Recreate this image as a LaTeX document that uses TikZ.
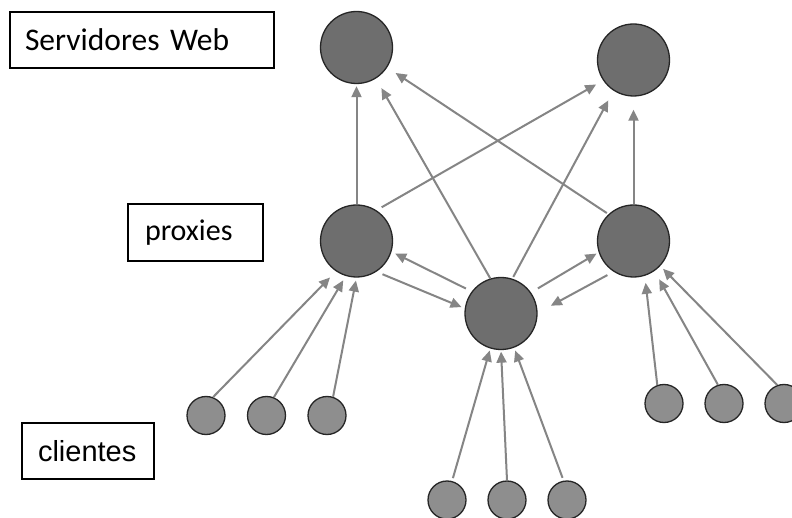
\documentclass[tikz,border=0pt]{standalone}
\usepackage{fontspec}
\setmainfont{Carlito}
\newfontfamily\arialf{Liberation Sans}
\usetikzlibrary{arrows.meta}
\definecolor{bigfill}{HTML}{6E6E6E}
\definecolor{smallfill}{HTML}{8E8E8E}
\definecolor{arrgray}{HTML}{858585}
\tikzset{
  bignode/.style={circle, draw=black!85, line width=1.3pt, fill=bigfill, minimum size=72pt, inner sep=0pt},
  smallnode/.style={circle, draw=black!85, line width=1.3pt, fill=smallfill, minimum size=38pt, inner sep=0pt},
  arr/.style={draw=arrgray, line width=2pt, -{Triangle[length=11pt,width=10pt]}, arrgray},
  labelbox/.style={draw=black, line width=1.4pt, fill=white, minimum height=56pt, align=left, inner ysep=0pt}
}
\begin{document}
\begin{tikzpicture}[x=1pt,y=-1pt]
\useasboundingbox[fill=white] (0,0) rectangle (792,518);
% servers
\node[bignode] (S1) at (356.5,47.5) {};
\node[bignode] (S2) at (633.5,60) {};
% proxies
\node[bignode] (P1) at (356.5,241) {};
\node[bignode] (P2) at (633.5,241) {};
\node[bignode] (C) at (501,313.5) {};
% clients
\node[smallnode] (L1) at (206,415.5) {};
\node[smallnode] (L2) at (266.5,415.5) {};
\node[smallnode] (L3) at (327,415.5) {};
\node[smallnode] (M1) at (447,500) {};
\node[smallnode] (M2) at (507,500) {};
\node[smallnode] (M3) at (567,500) {};
\node[smallnode] (R1) at (664,403.5) {};
\node[smallnode] (R2) at (724,403.5) {};
\node[smallnode] (R3) at (784,403.5) {};
% labels
\node[labelbox, inner xsep=15pt, text width=234pt, font=\fontsize{31.5}{31.5}\selectfont] (lS) at (142,40) {Servidores Web};
\node[labelbox, inner xsep=17pt, text width=101pt, minimum height=57pt, font=\fontsize{30}{30}\selectfont] (lP) at (195.5,232.5) {proxies};
\node[labelbox, inner xsep=16pt, text width=100pt, font=\arialf\fontsize{29}{29}\selectfont] (lC) at (88,451) {clientes};
% arrows to servers
\draw[arr, shorten >=2pt] (P1.90) -- (S1.-90);
\draw[arr, shorten <=6pt, shorten >=8pt] (P1.57) -- (S2.214);
\draw[arr, shorten >=11pt] (C.107) -- (S1.-58);
\draw[arr, shorten <=2pt, shorten >=11pt] (C.72) -- (S2.237);
\draw[arr, shorten <=2pt, shorten >=10pt] (P2.133) -- (S1.-33.5);
\draw[arr, shorten >=13pt] (P2.90) -- (S2.-90);
% proxy <-> center
\draw[arr, shorten <=6.5pt, shorten >=3.5pt] (P1.-57) -- (C.172);
\draw[arr, shorten <=6.5pt, shorten >=4pt] (C.143) -- (P1.-17.5);
\draw[arr, shorten <=8pt, shorten >=2.5pt] (C.35) -- (P2.198);
\draw[arr, shorten <=7pt, shorten >=15pt] (P2.237) -- (C.1.7);
% clients
\draw[arr, shorten >=8.5pt] (L1.69) -- (P1.236);
\draw[arr, shorten >=5pt] (L2.68) -- (P1.253);
\draw[arr, shorten >=3pt] (L3.72) -- (P1.270);
\draw[arr, shorten <=3pt, shorten >=2pt] (M1.75) -- (C.253);
\draw[arr, shorten >=1.5pt] (M2.90) -- (C.-90);
\draw[arr, shorten <=3pt, shorten >=3pt] (M3.100) -- (C.291);
\draw[arr, shorten >=7pt] (R1.110) -- (P2.288);
\draw[arr, shorten >=9.5pt] (R2.108) -- (P2.305.6);
\draw[arr, shorten >=4pt] (R3.110) -- (P2.317.5);
\end{tikzpicture}
\end{document}
